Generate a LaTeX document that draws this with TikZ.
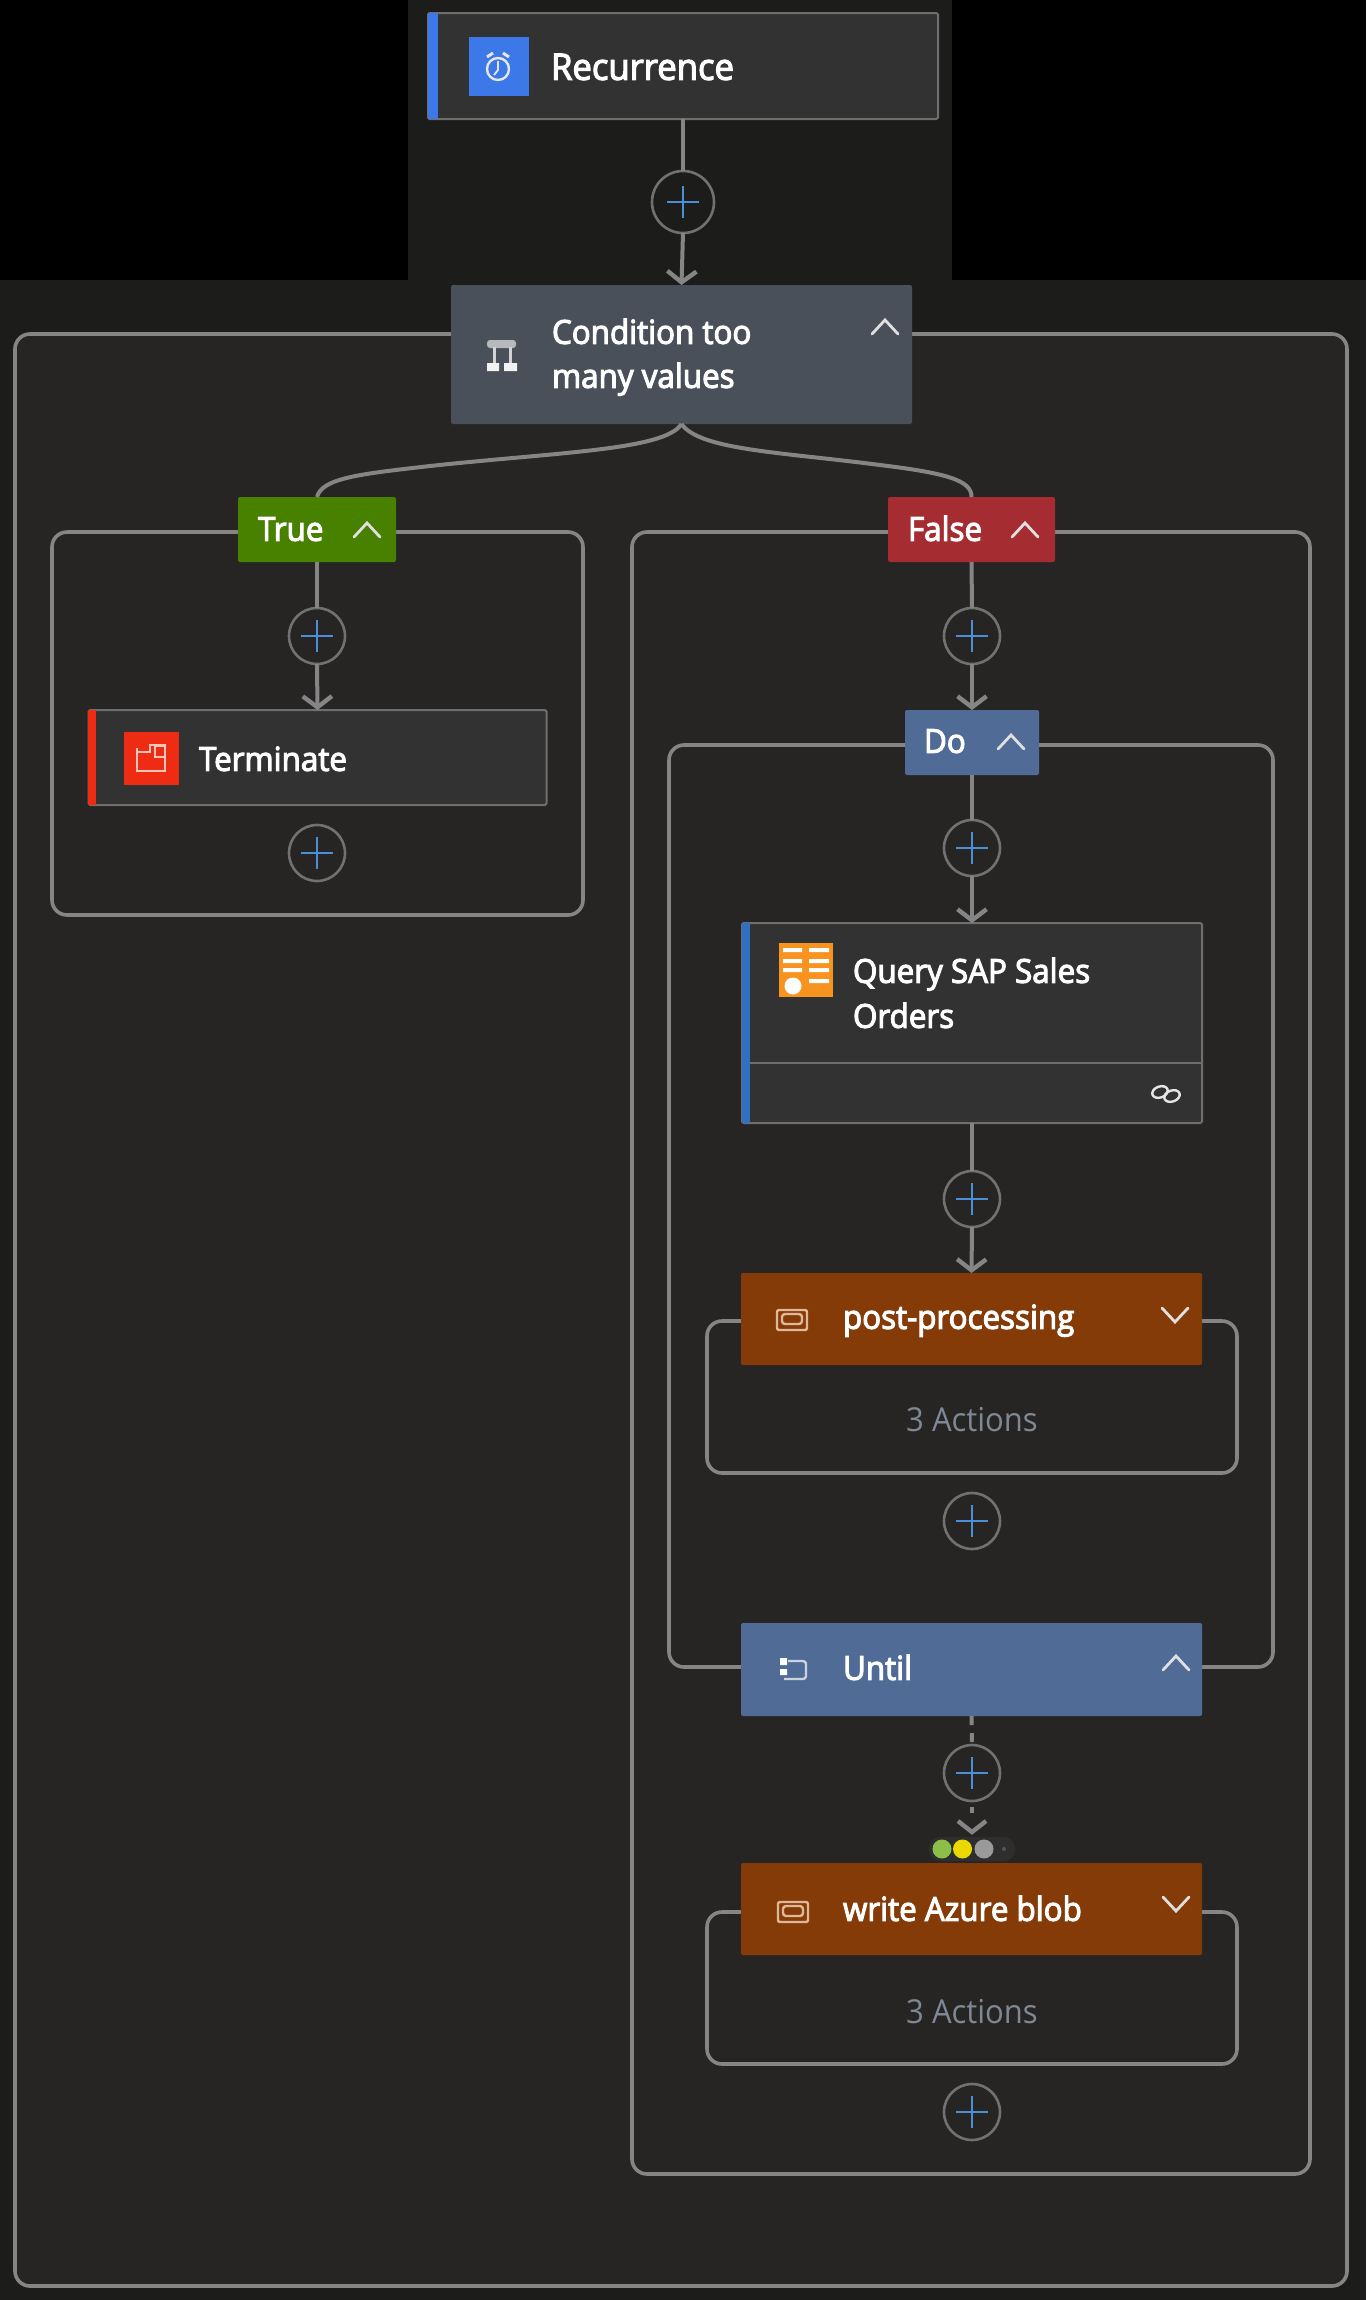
\documentclass[tikz,border=0pt]{standalone}
\usepackage{fontspec}
\setmainfont{Open Sans}[FakeStretch=0.95,FakeBold=3.2]
\newfontfamily\plainface{Open Sans}[FakeStretch=0.94]
\usetikzlibrary{arrows.meta,shapes.geometric}
\definecolor{pagebg}{HTML}{262524}
\definecolor{topbg}{HTML}{1C1C1B}
\definecolor{edge}{HTML}{858585}
\definecolor{cardfill}{HTML}{323232}
\definecolor{cardline}{HTML}{6E6E6E}
\definecolor{condfill}{HTML}{4A505A}
\definecolor{truefill}{HTML}{488000}
\definecolor{falsefill}{HTML}{A52C30}
\definecolor{loopfill}{HTML}{4F6B96}
\definecolor{scopefill}{HTML}{843B08}
\definecolor{plusblue}{HTML}{4A90D9}
\definecolor{muted}{HTML}{7F8894}
\definecolor{barblue}{HTML}{3C78E8}
\definecolor{barblue2}{HTML}{2F6FC4}
\definecolor{termred}{HTML}{EE2C14}
\definecolor{sapor}{HTML}{F7931E}
\definecolor{pilldark}{HTML}{2E2E2E}
\definecolor{dotgreen}{HTML}{8CBF4A}
\definecolor{dotyellow}{HTML}{EAD900}
\definecolor{dotgray}{HTML}{9A9A9A}
\definecolor{dotdim}{HTML}{555555}
\definecolor{scopeglyph}{HTML}{E0B898}
\definecolor{termglyph}{HTML}{FAC4B8}
\tikzset{
  x=1pt,y=-1pt,
  box/.style={rectangle,inner sep=0pt,outer sep=0pt,anchor=center},
  groupbox/.style={box,draw=edge,line width=3.6pt,rounded corners=15pt},
  card/.style={box,draw=cardline,fill=cardfill,line width=2pt,rounded corners=1.5pt},
  head/.style={box,rounded corners=2pt},
  plusnode/.style={circle,inner sep=0pt,outer sep=0pt,minimum size=56pt,draw=edge!85!black,line width=2.6pt,fill=pagebg},
  lbl/.style={inner sep=0pt,outer sep=0pt,anchor=base west,text=white,yshift=-0.8pt,font=\fontsize{33}{40}\selectfont},
  lblfade/.style={inner sep=0pt,outer sep=0pt,text=muted,font=\plainface\fontsize{33}{40}\selectfont},
  conn/.style={draw=edge,line width=4pt},
  arr/.style={conn,-{Straight Barb[length=11pt,width=29pt,line width=4.4pt]}},
  dashconn/.style={draw=edge,line width=4pt,dash pattern=on 9pt off 8pt},
  chev/.style={draw=white!88!black,line width=2.8pt,line cap=round,line join=miter},
  glyph/.style={draw=white!90!black,line width=2.4pt},
}
\newcommand{\plusat}[3]{%
  \node[plusnode,#3] (#1) at #2 {};
  \draw[plusblue,line width=2.8pt] ([xshift=-16pt]#1.center) -- ([xshift=16pt]#1.center);
  \draw[plusblue,line width=2.8pt] ([yshift=-16pt]#1.center) -- ([yshift=16pt]#1.center);
}
\newcommand{\chevup}[1]{\draw[chev] ([shift={(-13pt,-7pt)}]#1) -- ([shift={(0pt,7pt)}]#1) -- ([shift={(13pt,-7pt)}]#1);}
\newcommand{\chevdown}[1]{\draw[chev] ([shift={(-13pt,7pt)}]#1) -- ([shift={(0pt,-7pt)}]#1) -- ([shift={(13pt,7pt)}]#1);}
\newcommand{\scopeicon}[1]{%
  \draw[draw=scopeglyph,line width=2.4pt,rounded corners=2pt] ([shift={(-15pt,8pt)}]#1) rectangle ([shift={(15pt,-12pt)}]#1);
  \draw[draw=scopeglyph,line width=2.4pt,rounded corners=3pt] ([shift={(-10pt,4pt)}]#1) rectangle ([shift={(10pt,-6pt)}]#1);
}
\begin{document}
\begin{tikzpicture}
\useasboundingbox (0,0) rectangle (1366,2300);
\fill[black] (0,0) rectangle (1366,2300);
\fill[topbg] (0,280) rectangle (1366,2300);
\fill[topbg] (408,0) rectangle (952,285);
% group outlines
\node[groupbox,fill=pagebg,minimum width=1332pt,minimum height=1952pt] (outer) at (681,1310) {};
\node[groupbox,minimum width=531pt,minimum height=383pt] (gtrue) at (317.5,723.5) {};
\node[groupbox,minimum width=678pt,minimum height=1642pt] (gfalse) at (971,1353) {};
\node[groupbox,minimum width=604pt,minimum height=922pt] (gdo) at (971,1206) {};
\node[groupbox,minimum width=530pt,minimum height=152pt] (gpost) at (972,1397) {};
\node[groupbox,minimum width=530pt,minimum height=152pt] (gblob) at (972,1988) {};
% cards and headers
\node[card,minimum width=510pt,minimum height=106pt] (rec) at (683,66) {};
\fill[barblue] (428,13) rectangle (438,119);
\node[head,fill=condfill,minimum width=461pt,minimum height=139pt] (cond) at (681.5,354.5) {};
\node[head,fill=truefill,minimum width=158pt,minimum height=65pt] (true) at (317,529.5) {};
\node[head,fill=falsefill,minimum width=167pt,minimum height=65pt] (false) at (971.5,529.5) {};
\node[card,minimum width=458pt,minimum height=95pt] (term) at (317.5,757.5) {};
\fill[termred] (88,710) rectangle (96,805);
\node[head,fill=loopfill,minimum width=134pt,minimum height=65pt] (do) at (972,742.5) {};
\node[card,minimum width=460pt,minimum height=200pt] (query) at (972,1023) {};
\fill[barblue2] (742,923) rectangle (750,1123);
\draw[cardline,line width=2pt] (750,1063) -- (1202,1063);
\node[head,fill=scopefill,minimum width=461pt,minimum height=92pt] (post) at (971.5,1319) {};
\node[head,fill=loopfill,minimum width=461pt,minimum height=93pt] (until) at (971.5,1669.5) {};
\node[head,fill=scopefill,minimum width=461pt,minimum height=92pt] (blob) at (971.5,1909) {};
% plus buttons
\plusat{p1}{(683,202)}{minimum size=62pt,fill=topbg}
\plusat{pt1}{(317,636)}{}
\plusat{pt2}{(317,853)}{}
\plusat{pf1}{(972,636)}{}
\plusat{pd1}{(972,848)}{}
\plusat{pq}{(972,1199)}{}
\plusat{pp}{(972,1521)}{}
\plusat{pu}{(972,1773)}{}
\plusat{pb}{(972,2112)}{}
% connectors
\draw[conn] (rec.south) -- (p1.north);
\draw[arr] (p1.south) -- (cond.north);
\draw[conn] (cond.south) .. controls (665,450) and (560,452) .. (430,466) .. controls (360,474) and (322,478) .. (true.north);
\draw[conn] (cond.south) .. controls (700,450) and (780,452) .. (880,465) .. controls (945,473) and (972,480) .. (false.north);
\draw[conn] (true.south) -- (pt1.north);
\draw[arr] (pt1.south) -- (term.north);
\draw[conn] (false.south) -- (pf1.north);
\draw[arr] (pf1.south) -- (do.north);
\draw[conn] (do.south) -- (pd1.north);
\draw[arr] (pd1.south) -- (query.north);
\draw[conn] (query.south) -- (pq.north);
\draw[arr] (pq.south) -- (post.north);
\draw[dashconn] (until.south) -- (pu.north);
\coordinate (tipu) at (972,1832);
\draw[dashconn,dash phase=3pt] (pu.south) ++(0,6) -- (972,1818);
\draw[draw=edge,line width=4.4pt] (958,1821) -- (tipu) -- (986,1821);
% status pill
\node[box,fill=pilldark,rounded corners=11pt,minimum width=86pt,minimum height=24pt] (pill) at (972,1849) {};
\node[circle,fill=dotgreen,inner sep=0pt,minimum size=19pt] (dg) at (942,1849) {};
\node[circle,fill=dotyellow,inner sep=0pt,minimum size=19pt] (dy) at (962.5,1849) {};
\node[circle,fill=dotgray,inner sep=0pt,minimum size=19pt] (dk) at (984,1849) {};
\node[circle,fill=dotdim,inner sep=0pt,minimum size=4pt] (dd) at (1004,1849) {};
% labels
\node[lbl,font=\fontsize{36.5}{44}\selectfont] (trec) at (551,79) {Recurrence};
\node[lbl] (tc1) at (552,343) {Condition too};
\node[lbl] (tc2) at (552,387) {many values};
\node[lbl] (ttrue) at (258,540) {True};
\node[lbl] (tfalse) at (908,540) {False};
\node[lbl] (tterm) at (199,770) {Terminate};
\node[lbl] (tdo) at (924,752) {Do};
\node[lbl] (tq1) at (853,982) {Query SAP Sales};
\node[lbl] (tq2) at (853,1027) {Orders};
\node[lbl] (tpost) at (843,1328) {post-processing};
\node[lblfade] (ta1) at (972,1420) {3 Actions};
\node[lbl] (tuntil) at (843,1679) {Until};
\node[lbl] (tblob) at (843,1920) {write Azure blob};
\node[lblfade] (ta2) at (972,2012) {3 Actions};
% chevrons
\chevup{885,327}\chevup{367,530}\chevup{1025,530}\chevup{1011,742}\chevup{1176,1663}
\chevdown{1175,1315}\chevdown{1176,1904}
% icons
\fill[barblue] (469,37) rectangle (529,96);
\draw[glyph] (498,69) circle (11pt);
\draw[glyph,line width=1.8pt] (498,61) -- (498,70) -- (494,75);
\draw[glyph,line width=3pt] (487,57) -- (493,53);\draw[glyph,line width=3pt] (509,57) -- (503,53);
\fill[termred] (124,732) rectangle (179,785);
\draw[draw=termglyph,line width=2.2pt] (137,748) -- (137,771) -- (165,771) -- (165,745) -- (150,745) -- (150,752) -- (137,752);
\draw[draw=termglyph,line width=2.2pt] (155,746) rectangle (165,757);
\fill[white!60!condfill,rounded corners=3pt] (487,340) rectangle (516,348);
\draw[white!75!condfill,line width=3pt] (494,347) -- (494,364) (510,347) -- (510,364);
\fill[white!95!black] (487,363) rectangle (499,371) (504,363) rectangle (517,371);
\fill[sapor] (779,943) rectangle (833,997);
\fill[white] (783,948) rectangle (802,952) (783,959) rectangle (802,963) (783,968) rectangle (802,972)
  (809,948) rectangle (829,952) (809,959) rectangle (829,963) (809,968) rectangle (829,972) (809,979) rectangle (829,983);
\fill[white] (793,986) circle (8.5pt);
\draw[white!90!black,line width=2.4pt,rotate around={20:(1160,1092)}] (1160,1092) ellipse (8pt and 5.5pt);
\draw[white!90!black,line width=2.4pt,rotate around={20:(1172,1096)}] (1172,1096) ellipse (8pt and 5.5pt);
\scopeicon{792,1318}\scopeicon{793,1910}
\draw[white!70!loopfill,line width=2.4pt,rounded corners=3pt] (788,1661) -- (806,1661) -- (806,1679) -- (784,1679);
\fill[white] (780,1658) rectangle (787,1665) (780,1669) rectangle (787,1675);
\end{tikzpicture}
\end{document}
